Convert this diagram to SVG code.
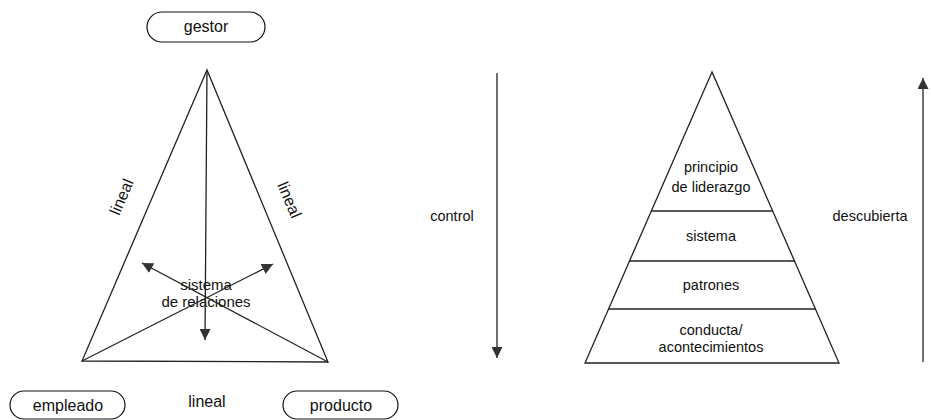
<svg xmlns="http://www.w3.org/2000/svg" width="931" height="420" viewBox="0 0 931 420">
<style>
text{font-family:"Liberation Sans",Arial,sans-serif;fill:#111;text-anchor:middle}
.l{font-size:16px}
.s{font-size:15px}
.r{font-size:14.5px}
.ln{stroke:#222;stroke-width:1.3;fill:none}
.pill{fill:#fff;stroke:#111;stroke-width:1.2}
</style>
<defs>
<marker id="ah" viewBox="0 0 10 10" refX="10" refY="5" markerWidth="11" markerHeight="11" markerUnits="userSpaceOnUse" orient="auto">
<path d="M0,0 L10,5 L0,10 Z" fill="#333"/>
</marker>
</defs>
<g id="gestor"><rect class="pill" x="147" y="12" width="118" height="30" rx="15"/><text class="l" x="206" y="32">gestor</text></g>
<g id="empleado"><rect class="pill" x="10" y="391" width="115" height="28" rx="14"/><text class="l" x="68" y="411">empleado</text></g>
<g id="producto"><rect class="pill" x="283" y="391" width="115" height="28" rx="14"/><text class="l" x="341" y="411">producto</text></g>
<g id="triangulo">
<path class="ln" d="M207,70 L82,361 L328,362 Z"/>
<text class="l" transform="translate(122,197) rotate(-66.7)" y="5">lineal</text>
<text class="l" transform="translate(289,200) rotate(66.7)" y="5">lineal</text>
<text class="l" x="207" y="407">lineal</text>
<text class="s" x="206" y="290">sistema</text>
<text class="s" x="206" y="307">de relaciones</text>
</g>
<g id="piramide">
<path class="ln" d="M712,72 L585,363 L839,363 Z"/>
<line class="ln" x1="651" y1="211" x2="773" y2="211"/>
<line class="ln" x1="629" y1="261" x2="795" y2="261"/>
<line class="ln" x1="608" y1="309" x2="816" y2="309"/>
<text class="r" x="711" y="172">principio</text>
<text class="r" x="711" y="192">de liderazgo</text>
<text class="r" x="711" y="241">sistema</text>
<text class="r" x="711" y="290">patrones</text>
<text class="r" x="711" y="335">conducta/</text>
<text class="r" x="711" y="352">acontecimientos</text>
<text class="r" x="452" y="221">control</text>
<text class="r" x="870" y="221">descubierta</text>
</g>
<g id="connectors">
<line class="ln" x1="207" y1="70" x2="205" y2="340" marker-end="url(#ah)"/>
<line class="ln" x1="328" y1="362" x2="142" y2="263" marker-end="url(#ah)"/>
<line class="ln" x1="82" y1="361" x2="273" y2="264" marker-end="url(#ah)"/>
<line class="ln" x1="497" y1="73" x2="497" y2="358" marker-end="url(#ah)"/>
<line class="ln" x1="923" y1="362" x2="923" y2="78" marker-end="url(#ah)"/>
</g>
</svg>
